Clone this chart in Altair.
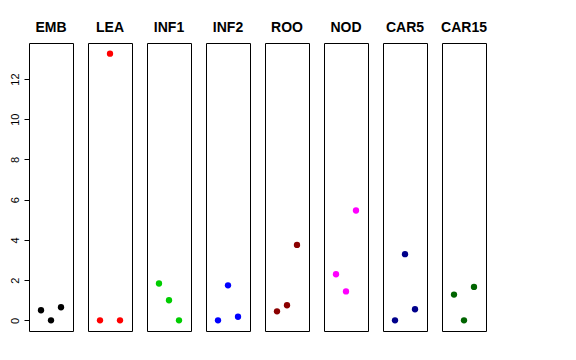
import altair as alt
import pandas as pd

tissues = ["EMB", "LEA", "INF1", "INF2", "ROO", "NOD", "CAR5", "CAR15"]
colors = ["#000000", "#FF0000", "#00CD00", "#0000FF", "#8B0000", "#FF00FF", "#00008B", "#006400"]
rep = [1, 2, 3]
values = {
    "EMB": [0.50, 0.00, 0.65],
    "LEA": [0.00, 13.26, 0.00],
    "INF1": [1.83, 1.00, 0.00],
    "INF2": [0.00, 1.74, 0.18],
    "ROO": [0.45, 0.75, 3.75],
    "NOD": [2.29, 1.44, 5.46],
    "CAR5": [0.00, 3.29, 0.55],
    "CAR15": [1.28, 0.00, 1.66],
}

rows = []
for t in tissues:
    for r, v in zip(rep, values[t]):
        rows.append({"tissue": t, "rep": r, "value": v})
df = pd.DataFrame(rows)

chart = (
    alt.Chart(df)
    .mark_circle(size=40, opacity=1)
    .encode(
        x=alt.X("rep:Q", scale=alt.Scale(domain=[-0.2, 4.2], nice=False, zero=False), axis=None),
        y=alt.Y(
            "value:Q",
            scale=alt.Scale(domain=[-0.53, 13.79], nice=False, zero=False),
            axis=alt.Axis(
                title=None,
                values=[0, 2, 4, 6, 8, 10, 12],
                grid=False,
                domain=False,
                tickSize=5,
                tickColor="#000000",
                labelAngle=270,
                labelAlign="center",
                labelBaseline="bottom",
                labelPadding=4,
                labelFont="Liberation Sans",
                labelFontSize=11,
                labelColor="#000000",
            ),
        ),
        color=alt.Color("tissue:N", scale=alt.Scale(domain=tissues, range=colors), legend=None),
        column=alt.Column(
            "tissue:N",
            sort=tissues,
            header=alt.Header(
                title=None,
                labelFont="Liberation Sans",
                labelFontWeight="bold",
                labelFontSize=14,
                labelColor="#000000",
                labelPadding=8,
            ),
        ),
    )
    .properties(width=44, height=288, bounds="flush")
    .configure_facet(spacing=15)
    .configure_view(stroke="#000000", strokeWidth=1)
    .properties(padding={"left": 1, "top": 13, "right": 5, "bottom": 5})
)

chart.save("out.html", embed_options={"renderer": "svg", "actions": False})
